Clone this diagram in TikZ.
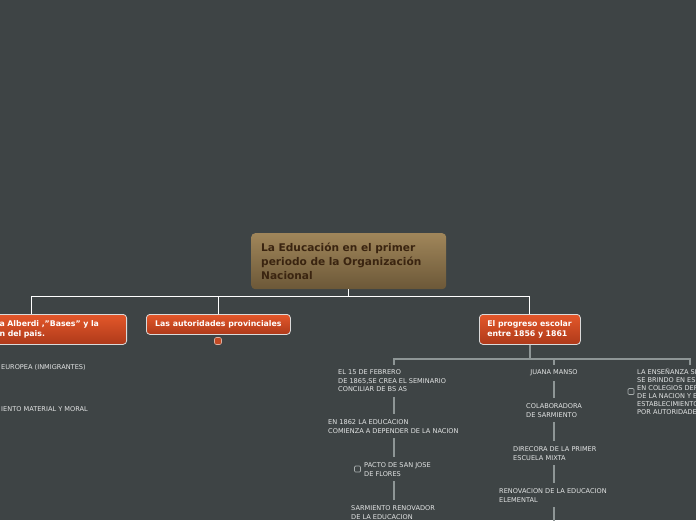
\documentclass[tikz,border=0pt]{standalone}
\usepackage{fontspec}
\setmainfont{DejaVu Sans}
\definecolor{bg}{HTML}{3E4445}
\definecolor{roottop}{HTML}{A0865A}
\definecolor{rootbot}{HTML}{6C5838}
\definecolor{roottext}{HTML}{3A2410}
\definecolor{ortop}{HTML}{E4572A}
\definecolor{orbot}{HTML}{AE3A1A}
\definecolor{orborder}{HTML}{DADADA}
\definecolor{subgray}{HTML}{8E9696}
\definecolor{smalltext}{HTML}{E2E4E4}
\definecolor{boxgray}{HTML}{A8AEAE}
\begin{document}
\begin{tikzpicture}[x=1pt,y=-1pt,
  rootbox/.style={rounded corners=4pt, top color=roottop, bottom color=rootbot, draw=none,
    text=roottext, font=\fontsize{10.6}{14}\selectfont\bfseries, align=left,
    inner xsep=10pt, inner ysep=0pt, minimum height=56pt},
  orbox/.style={rounded corners=3.5pt, top color=ortop, bottom color=orbot, draw=orborder,
    line width=0.8pt, text=white, font=\fontsize{7.8}{9.5}\selectfont\bfseries,
    inner xsep=8pt, inner ysep=0pt},
  topline/.style={draw=white, line width=1pt},
  subline/.style={draw=subgray, line width=1.3pt},
  leaf/.style={text=smalltext, font=\fontsize{6.6}{8.5}\selectfont, align=left, inner sep=1pt},
  chk/.style={draw=boxgray, line width=0.7pt, rounded corners=1pt, minimum size=6pt, inner sep=0pt},
  badge/.style={fill=ortop!85!black, draw=orborder!70!ortop, line width=0.6pt, rounded corners=2pt,
    minimum size=7pt, inner sep=0pt}
]
\useasboundingbox (0,0) rectangle (696,520);
\clip (0,0) rectangle (696,520);
\fill[bg] (0,0) rectangle (696,520);

% root
\node[rootbox, text width=175pt, anchor=north west] (root) at (251,233)
  {La Educación en el primer\\periodo de la Organización\\Nacional};

% first level
\node[orbox, anchor=north east, minimum width=190pt, minimum height=30pt, text width=174pt, align=left]
  (alberdi) at (127,314) {\hspace*{55pt}a Alberdi ,\char34 Bases\char34{} y la\\\hspace*{55pt}n del pais.};
\node[orbox, anchor=north west, minimum width=144pt, minimum height=20pt, align=center]
  (prov) at (146,314) {Las autoridades provinciales};
\node[orbox, anchor=north west, minimum width=101pt, minimum height=30pt, text width=85pt, align=left]
  (prog) at (479,314) {El progreso escolar\\entre 1856 y 1861};
\node[badge] (provb) at (218,341) {};

\draw[topline] (root.south) -- ++(0,7) -| (alberdi.north);
\draw[topline] (root.south) -- ++(0,7) -| (prov.north);
\draw[topline] (root.south) -- ++(0,7) -| (prog.north);

% left leaves (cut by the edge)
\node[leaf, anchor=west] (eur) at (0,367) {EUROPEA (INMIGRANTES)};
\node[leaf, anchor=west] (mat) at (0,409) {IENTO MATERIAL Y MORAL};

% column coordinates
\coordinate (k1) at (394,359);
\coordinate (k2) at (554,359);
\coordinate (k3) at (690,359);

% column 1
\node[leaf, anchor=north west] (feb) at (337,368.5) {EL 15 DE FEBRERO\\DE 1865,SE CREA EL SEMINARIO\\CONCILIAR DE BS AS};
\node[leaf, anchor=north west] (edu) at (327,418.5) {EN 1862 LA EDUCACION\\COMIENZA A DEPENDER DE LA NACION};
\node[leaf, anchor=north west] (pacto) at (363,461.5) {PACTO DE SAN JOSE\\DE FLORES};
\node[chk] (pactochk) at (357.5,469) {};
\node[leaf, anchor=north west] (sarm) at (350,504.5) {SARMIENTO RENOVADOR\\DE LA EDUCACION};

% column 2
\node[leaf, anchor=north] (juana) at (554,368.5) {JUANA MANSO};
\node[leaf, anchor=north west] (colab) at (525,402.5) {COLABORADORA\\DE SARMIENTO};
\node[leaf, anchor=north west] (direc) at (512,445.5) {DIRECORA DE LA PRIMER\\ESCUELA MIXTA};
\node[leaf, anchor=north west] (renov) at (498,487.5) {RENOVACION DE LA EDUCACION\\ELEMENTAL};
\coordinate (renovend) at (554,525);

% column 3
\node[leaf, anchor=north west, font=\fontsize{6.6}{8}\selectfont] (ens) at (636,367.5)
  {LA ENSEÑANZA SE\\SE BRINDO EN ES\\EN COLEGIOS DEP\\DE LA NACION Y E\\ESTABLECIMIENTO\\POR AUTORIDADE};
\node[chk] (enschk) at (631,391.5) {};

% second-level connectors
\draw[subline] (prog.south) -- (prog.south |- k1) -| ([yshift=-6pt]k1);
\draw[subline] (prog.south |- k1) -| ([yshift=-6pt]k2);
\draw[subline] (prog.south |- k1) -| ([yshift=-6pt]k3);

% column 1 chain
\draw[subline] ([yshift=-4pt]k1 |- feb.south) -- ([yshift=5pt]k1 |- edu.north);
\draw[subline] ([yshift=-4pt]k1 |- edu.south) -- ([yshift=5pt]k1 |- pacto.north);
\draw[subline] ([yshift=-4pt]k1 |- pacto.south) -- ([yshift=5pt]k1 |- sarm.north);

% column 2 chain
\draw[subline] ([yshift=-4pt]k2 |- juana.south) -- ([yshift=5pt]k2 |- colab.north);
\draw[subline] ([yshift=-4pt]k2 |- colab.south) -- ([yshift=5pt]k2 |- direc.north);
\draw[subline] ([yshift=-4pt]k2 |- direc.south) -- ([yshift=5pt]k2 |- renov.north);
\draw[subline] ([yshift=-4pt]k2 |- renov.south) -- (renovend);
\end{tikzpicture}
\end{document}
